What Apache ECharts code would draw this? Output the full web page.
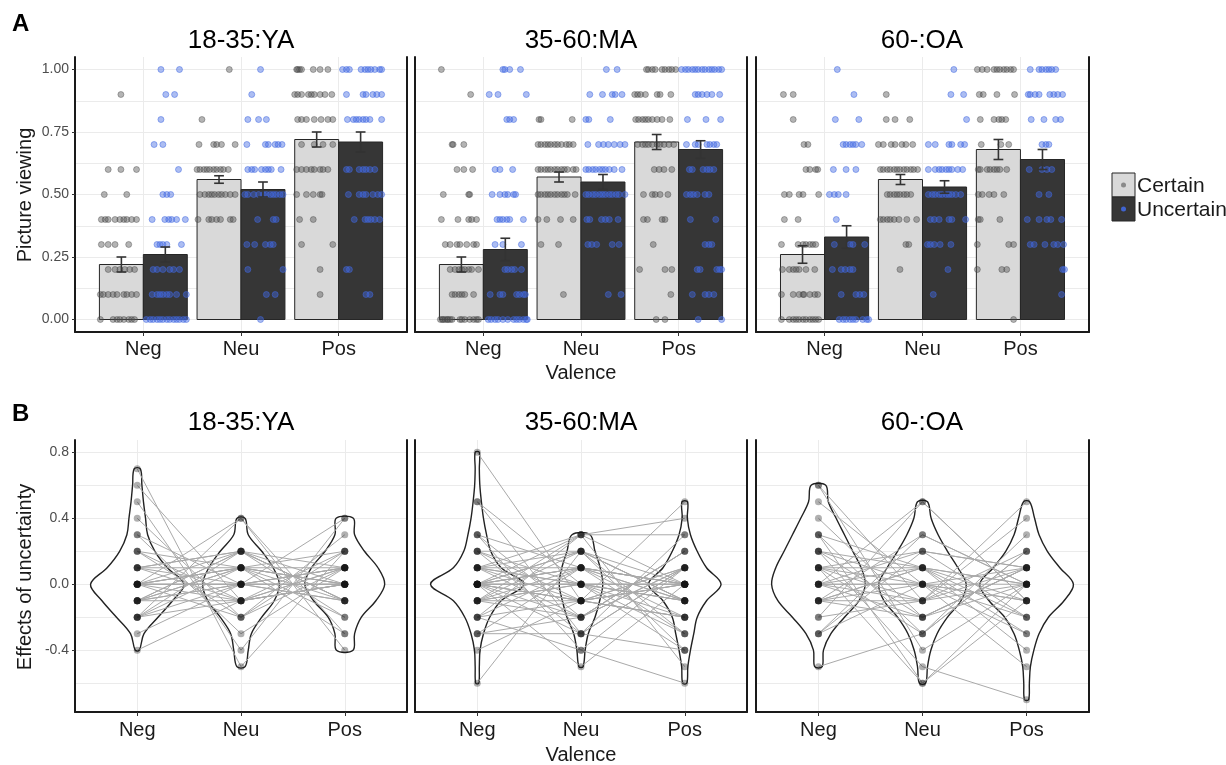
<!DOCTYPE html>
<html>
<head>
<meta charset="utf-8">
<script src="https://cdn.jsdelivr.net/npm/echarts@6/dist/echarts.min.js"></script>
<style>
  html, body { margin: 0; padding: 0; background: #fff; }
  #chart { width: 1226px; height: 765px; }
</style>
</head>
<body>
<div id="chart"></div>
<script>
// ---------- labels / ticks ----------
const valence = ["Neg", "Neu", "Pos"];
const groups = ["18-35:YA", "35-60:MA", "60-:OA"];
const topTicks = [0, 0.25, 0.5, 0.75, 1];
const topGrid = [0, 0.125, 0.25, 0.375, 0.5, 0.625, 0.75, 0.875, 1];
const bottomTicks = [-0.4, 0, 0.4, 0.8];
const bottomGrid = [-0.6, -0.4, -0.2, 0, 0.2, 0.4, 0.6, 0.8];

// ---------- A: bar means and standard errors (Neg, Neu, Pos) ----------
const barYA_c = [0.22, 0.56, 0.72], seYA_c = [0.03, 0.015, 0.03];
const barYA_u = [0.26, 0.52, 0.71], seYA_u = [0.03, 0.03, 0.04];
const barMA_c = [0.22, 0.57, 0.71], seMA_c = [0.03, 0.02, 0.03];
const barMA_u = [0.28, 0.55, 0.68], seMA_u = [0.045, 0.03, 0.035];
const barOA_c = [0.26, 0.56, 0.68], seOA_c = [0.035, 0.02, 0.04];
const barOA_u = [0.33, 0.53, 0.64], seOA_u = [0.045, 0.025, 0.04];

// ---------- A: individual points, rows = [value, jittered x offsets from category...] ----------
const ya_neg_c = [
  [0.9, -0.23], [0.6, -0.36, -0.23, -0.07], [0.5, -0.40, -0.17],
  [0.4, -0.43, -0.39, -0.36, -0.29, -0.24, -0.20, -0.17, -0.12, -0.07],
  [0.3, -0.43, -0.36, -0.29, -0.15],
  [0.2, -0.36, -0.29, -0.24, -0.19, -0.14, -0.09],
  [0.1, -0.44, -0.41, -0.36, -0.31, -0.27, -0.20, -0.17, -0.12, -0.07],
  [0.0, -0.44, -0.31, -0.27, -0.24, -0.20, -0.15, -0.12, -0.09]
];
const ya_neg_u = [
  [1.0, 0.18, 0.37], [0.9, 0.23, 0.32], [0.8, 0.18], [0.7, 0.11, 0.20], [0.6, 0.36],
  [0.5, 0.20, 0.24, 0.28], [0.4, 0.09, 0.22, 0.26, 0.29, 0.34, 0.43],
  [0.3, 0.14, 0.17, 0.20, 0.24, 0.39], [0.2, 0.10, 0.14, 0.20, 0.27, 0.31, 0.37],
  [0.1, 0.09, 0.14, 0.17, 0.20, 0.24, 0.27, 0.34, 0.44],
  [0.0, 0.03, 0.07, 0.10, 0.14, 0.17, 0.20, 0.24, 0.27, 0.31, 0.34, 0.37, 0.41, 0.44]
];
const ya_neu_c = [
  [1.0, -0.12], [0.8, -0.40], [0.7, -0.43, -0.28, -0.25, -0.20, -0.06],
  [0.6, -0.45, -0.42, -0.38, -0.35, -0.32, -0.28, -0.25, -0.21, -0.18, -0.13],
  [0.5, -0.42, -0.37, -0.33, -0.30, -0.27, -0.23, -0.20, -0.16, -0.11, -0.06],
  [0.4, -0.44, -0.33, -0.30, -0.25, -0.21, -0.11, -0.08]
];
const ya_neu_u = [
  [1.0, 0.20], [0.9, 0.11], [0.8, 0.07, 0.18, 0.26], [0.7, 0.06, 0.25, 0.28, 0.35, 0.38, 0.42],
  [0.6, 0.07, 0.11, 0.14, 0.21, 0.25, 0.28, 0.31, 0.41],
  [0.5, 0.04, 0.07, 0.13, 0.18, 0.23, 0.26, 0.30, 0.33, 0.36, 0.40, 0.43],
  [0.4, 0.17, 0.33, 0.36], [0.3, 0.06, 0.14, 0.25, 0.30, 0.33], [0.2, 0.07, 0.43],
  [0.1, 0.26, 0.35], [0.0, 0.20]
];
const ya_pos_c = [
  [1.0, -0.43, -0.42, -0.40, -0.38, -0.26, -0.19, -0.11],
  [0.9, -0.45, -0.42, -0.38, -0.31, -0.28, -0.25, -0.19, -0.14, -0.07],
  [0.8, -0.42, -0.38, -0.33, -0.25, -0.18, -0.11, -0.06], [0.7, -0.38, -0.25, -0.16, -0.06],
  [0.6, -0.43, -0.38, -0.33, -0.28, -0.25, -0.19, -0.16, -0.11],
  [0.5, -0.43, -0.33, -0.26, -0.19, -0.17], [0.4, -0.40, -0.26], [0.3, -0.38, -0.06],
  [0.2, -0.19], [0.1, -0.19]
];
const ya_pos_u = [
  [1.0, 0.04, 0.08, 0.11, 0.23, 0.27, 0.30, 0.33, 0.37, 0.42, 0.44],
  [0.9, 0.08, 0.25, 0.28, 0.35, 0.39, 0.44],
  [0.8, 0.09, 0.15, 0.18, 0.21, 0.25, 0.28, 0.32, 0.44],
  [0.6, 0.08, 0.11, 0.21, 0.25, 0.28, 0.32, 0.37],
  [0.5, 0.10, 0.21, 0.25, 0.28, 0.35, 0.40, 0.44],
  [0.4, 0.16, 0.27, 0.30, 0.33, 0.37, 0.42], [0.2, 0.08, 0.11], [0.1, 0.28, 0.32]
];

const ma_neg_c = [
  [1.0, -0.43], [0.9, -0.13], [0.7, -0.32, -0.31, -0.20], [0.6, -0.27, -0.20, -0.11],
  [0.5, -0.41, -0.15, -0.14], [0.4, -0.43, -0.26, -0.15, -0.12, -0.07],
  [0.3, -0.39, -0.34, -0.27, -0.24, -0.17, -0.10, -0.07],
  [0.2, -0.34, -0.29, -0.25, -0.22, -0.19, -0.15, -0.12, -0.05],
  [0.1, -0.32, -0.29, -0.25, -0.22, -0.19, -0.10],
  [0.0, -0.44, -0.42, -0.41, -0.39, -0.37, -0.36, -0.34, -0.32, -0.24, -0.22, -0.19, -0.14, -0.10, -0.07, -0.05]
];
const ma_neg_u = [
  [1.0, 0.20, 0.22, 0.27, 0.38], [0.9, 0.06, 0.15, 0.44], [0.8, 0.24, 0.27, 0.31],
  [0.6, 0.12, 0.17, 0.30], [0.5, 0.09, 0.17, 0.22, 0.25, 0.31, 0.33],
  [0.4, 0.14, 0.17, 0.20, 0.24, 0.27, 0.41], [0.3, 0.12, 0.20, 0.39],
  [0.2, 0.22, 0.25, 0.29, 0.32, 0.39], [0.1, 0.07, 0.17, 0.20, 0.34, 0.37, 0.41, 0.43],
  [0.0, 0.05, 0.08, 0.12, 0.15, 0.20, 0.25, 0.31, 0.34, 0.37, 0.41, 0.44, 0.45]
];
const ma_neu_c = [
  [0.8, -0.43, -0.41, -0.09],
  [0.7, -0.44, -0.41, -0.37, -0.34, -0.31, -0.27, -0.24, -0.20, -0.15, -0.12, -0.08],
  [0.6, -0.44, -0.41, -0.37, -0.34, -0.31, -0.27, -0.24, -0.20, -0.17, -0.14, -0.08, -0.05],
  [0.5, -0.44, -0.41, -0.37, -0.34, -0.31, -0.27, -0.24, -0.20, -0.17, -0.14, -0.06],
  [0.4, -0.44, -0.35, -0.21, -0.08], [0.3, -0.41, -0.23], [0.1, -0.18]
];
const ma_neu_u = [
  [1.0, 0.26, 0.37], [0.9, 0.09, 0.22, 0.32, 0.35, 0.42], [0.8, 0.05, 0.08, 0.30],
  [0.7, 0.07, 0.18, 0.23, 0.28, 0.34, 0.40, 0.45],
  [0.6, 0.05, 0.08, 0.12, 0.15, 0.19, 0.22, 0.25, 0.29, 0.34, 0.42],
  [0.5, 0.05, 0.08, 0.12, 0.15, 0.19, 0.22, 0.25, 0.29, 0.32, 0.36, 0.39, 0.45],
  [0.4, 0.06, 0.09, 0.21, 0.25, 0.29, 0.38], [0.3, 0.07, 0.11, 0.16, 0.32, 0.39],
  [0.1, 0.28, 0.41]
];
const ma_pos_c = [
  [1.0, -0.33, -0.31, -0.27, -0.24, -0.17, -0.14, -0.10, -0.07, -0.03],
  [0.9, -0.45, -0.42, -0.39, -0.34, -0.22, -0.19, -0.08],
  [0.8, -0.44, -0.41, -0.37, -0.34, -0.31, -0.27, -0.22, -0.17, -0.09],
  [0.7, -0.42, -0.37, -0.34, -0.31, -0.27, -0.22, -0.19, -0.15, -0.10, -0.05],
  [0.6, -0.25, -0.20, -0.15, -0.07], [0.5, -0.36, -0.27, -0.24, -0.19, -0.11],
  [0.4, -0.36, -0.32, -0.17, -0.14], [0.3, -0.26], [0.2, -0.40, -0.14, -0.07],
  [0.1, -0.08], [0.0, -0.23, -0.14]
];
const ma_pos_u = [
  [1.0, 0.03, 0.07, 0.10, 0.14, 0.17, 0.20, 0.24, 0.27, 0.31, 0.34, 0.37, 0.41, 0.44],
  [0.9, 0.17, 0.20, 0.24, 0.29, 0.34, 0.42], [0.8, 0.09, 0.28, 0.43],
  [0.7, 0.08, 0.17, 0.20, 0.29, 0.32, 0.36, 0.39], [0.6, 0.11, 0.14, 0.25, 0.29, 0.32, 0.36],
  [0.5, 0.08, 0.12, 0.15, 0.19, 0.27, 0.31], [0.4, 0.12, 0.38], [0.3, 0.27, 0.31, 0.34],
  [0.2, 0.19, 0.22, 0.39, 0.42, 0.44], [0.1, 0.14, 0.27, 0.31, 0.36], [0.0, 0.20, 0.44]
];

const oa_neg_c = [
  [0.9, -0.42, -0.32], [0.8, -0.32], [0.7, -0.21, -0.17], [0.6, -0.19, -0.15, -0.09, -0.07],
  [0.5, -0.41, -0.36, -0.26, -0.22, -0.06], [0.4, -0.41, -0.27],
  [0.3, -0.44, -0.27, -0.22, -0.19, -0.15, -0.12, -0.09],
  [0.2, -0.43, -0.36, -0.32, -0.29, -0.26, -0.19, -0.10],
  [0.1, -0.44, -0.32, -0.26, -0.22, -0.21, -0.15, -0.10, -0.07],
  [0.0, -0.44, -0.36, -0.32, -0.29, -0.26, -0.22, -0.19, -0.15, -0.12, -0.09, -0.06]
];
const oa_neg_u = [
  [1.0, 0.13], [0.9, 0.30], [0.8, 0.11, 0.35], [0.7, 0.19, 0.22, 0.26, 0.29, 0.32, 0.38],
  [0.6, 0.09, 0.22, 0.32], [0.5, 0.05, 0.10, 0.14, 0.22], [0.4, 0.12],
  [0.3, 0.10, 0.26, 0.29, 0.41], [0.2, 0.08, 0.17, 0.21, 0.26, 0.29],
  [0.1, 0.17, 0.32, 0.36, 0.40], [0.0, 0.15, 0.19, 0.22, 0.26, 0.29, 0.32, 0.39, 0.43, 0.45]
];
const oa_neu_c = [
  [0.9, -0.37], [0.8, -0.37, -0.28, -0.13], [0.7, -0.45, -0.40, -0.32, -0.28, -0.21, -0.17, -0.10],
  [0.6, -0.43, -0.40, -0.36, -0.33, -0.29, -0.26, -0.23, -0.19, -0.16, -0.12, -0.09, -0.05],
  [0.5, -0.36, -0.33, -0.29, -0.26, -0.23, -0.19, -0.16, -0.12],
  [0.4, -0.43, -0.40, -0.36, -0.33, -0.29, -0.24, -0.16, -0.06], [0.3, -0.17, -0.14], [0.2, -0.23]
];
const oa_neu_u = [
  [1.0, 0.32], [0.9, 0.29, 0.42], [0.8, 0.45], [0.7, 0.06, 0.13, 0.27, 0.30, 0.39, 0.43],
  [0.6, 0.06, 0.13, 0.17, 0.20, 0.24, 0.27, 0.30, 0.36, 0.41],
  [0.5, 0.06, 0.10, 0.13, 0.17, 0.20, 0.24, 0.27, 0.30, 0.34, 0.39],
  [0.4, 0.08, 0.12, 0.17, 0.27, 0.30, 0.44], [0.3, 0.05, 0.08, 0.12, 0.18, 0.29],
  [0.2, 0.26], [0.1, 0.11]
];
const oa_pos_c = [
  [1.0, -0.44, -0.39, -0.34, -0.27, -0.24, -0.21, -0.17, -0.14, -0.10, -0.07],
  [0.9, -0.42, -0.38, -0.24, -0.06], [0.8, -0.41, -0.27, -0.22, -0.19, -0.15],
  [0.7, -0.40, -0.20, -0.12], [0.6, -0.43, -0.41, -0.34, -0.31, -0.27, -0.24, -0.21, -0.14],
  [0.5, -0.43, -0.39, -0.32, -0.27, -0.17], [0.4, -0.43, -0.41, -0.21],
  [0.3, -0.44, -0.12, -0.07], [0.2, -0.44, -0.19, -0.14], [0.0, -0.07]
];
const oa_pos_u = [
  [1.0, 0.10, 0.19, 0.22, 0.26, 0.29, 0.32, 0.36],
  [0.9, 0.08, 0.10, 0.15, 0.19, 0.30, 0.34, 0.38, 0.43], [0.8, 0.11, 0.24, 0.36, 0.41],
  [0.7, 0.22, 0.26, 0.29], [0.6, 0.09, 0.22, 0.27, 0.32], [0.5, 0.19, 0.29],
  [0.4, 0.07, 0.19, 0.27, 0.31, 0.42], [0.3, 0.10, 0.14, 0.25, 0.34, 0.38, 0.44],
  [0.2, 0.43, 0.45], [0.1, 0.42]
];

// ---------- B: violin outlines, rows = [value, half width] ----------
const vYA_neg = [[0.7,0.03],[0.6,0.045],[0.5,0.06],[0.4,0.08],[0.3,0.1],[0.2,0.17],[0.1,0.29],[0,0.45],[-0.1,0.34],[-0.2,0.2],[-0.3,0.065],[-0.4,0.02]];
const vYA_neu = [[0.4,0.04],[0.3,0.07],[0.2,0.2],[0.1,0.31],[0,0.37],[-0.1,0.32],[-0.2,0.2],[-0.3,0.1],[-0.4,0.07],[-0.5,0.04]];
const vYA_pos = [[0.4,0.083],[0.3,0.095],[0.2,0.19],[0.1,0.32],[0,0.385],[-0.1,0.3],[-0.2,0.16],[-0.3,0.095],[-0.4,0.08]];
const vMA_neg = [[0.8,0.02],[0.7,0.02],[0.6,0.025],[0.5,0.04],[0.4,0.06],[0.3,0.09],[0.2,0.13],[0.1,0.23],[0,0.45],[-0.1,0.23],[-0.2,0.12],[-0.3,0.06],[-0.4,0.027],[-0.5,0.02],[-0.6,0.015]];
const vMA_neu = [[0.3,0.087],[0.2,0.135],[0.1,0.185],[0,0.21],[-0.1,0.18],[-0.2,0.135],[-0.3,0.07],[-0.4,0.04],[-0.5,0.02]];
const vMA_pos = [[0.5,0.027],[0.4,0.025],[0.3,0.055],[0.2,0.12],[0.1,0.21],[0,0.35],[-0.1,0.21],[-0.2,0.12],[-0.3,0.087],[-0.4,0.055],[-0.5,0.03],[-0.6,0.02]];
const vOA_neg = [[0.6,0.07],[0.5,0.095],[0.4,0.17],[0.3,0.25],[0.2,0.33],[0.1,0.41],[0,0.45],[-0.1,0.39],[-0.2,0.25],[-0.3,0.12],[-0.4,0.048],[-0.5,0.036]];
const vOA_neu = [[0.5,0.048],[0.4,0.083],[0.3,0.15],[0.2,0.24],[0.1,0.34],[0,0.42],[-0.1,0.37],[-0.2,0.24],[-0.3,0.14],[-0.4,0.08],[-0.5,0.048],[-0.6,0.03]];
const vOA_pos = [[0.5,0.03],[0.4,0.077],[0.3,0.12],[0.2,0.2],[0.1,0.32],[0,0.45],[-0.1,0.36],[-0.2,0.21],[-0.3,0.12],[-0.4,0.07],[-0.5,0.037],[-0.6,0.027],[-0.7,0.02]];

// ---------- B: effects of uncertainty per participant [Neg, Neu, Pos] ----------
const effYA = [
  [0.7,-0.5,0.2],[0.6,-0.1,0],[0.5,-0.4,0.4],[0.4,-0.2,0.1],[0.3,-0.3,0.1],[0.3,0,-0.1],
  [0.2,-0.1,0],[0.2,0.1,-0.2],[0.2,-0.2,0.3],[0.1,0.2,-0.1],[0.1,0,0],[0.1,-0.1,0.2],
  [0.1,0.1,-0.3],[0.1,0.2,0],[0,0.4,-0.4],[0,0.1,0.1],[0,0,0],[0,-0.1,0.1],[0,0.2,-0.1],
  [0,0.1,0],[0,0,0.1],[0,-0.2,0.2],[0,0.1,-0.1],[0,0,0],[-0.1,0.2,-0.2],[-0.1,0,0.1],
  [-0.1,0.1,0],[-0.1,-0.1,0.1],[-0.1,0,-0.1],[-0.1,0.1,0],[-0.1,0.2,0.1],[-0.2,0.4,-0.3],
  [-0.2,0,0.1],[-0.2,0.2,-0.1],[-0.2,-0.1,0],[-0.2,0.1,0.2],[-0.3,0,0.4],[-0.4,-0.1,0]
];
const effMA = [
  [0.8,-0.1,0],[0.5,-0.3,0.1],[0.5,0,-0.2],[0.3,-0.2,0.2],[0.3,0.1,-0.3],[0.3,-0.4,0.1],
  [0.2,0,-0.1],[0.2,-0.1,0],[0.2,0.2,-0.4],[0.2,-0.3,0.3],[0.1,0,-0.1],[0.1,0.1,0],
  [0.1,-0.1,-0.2],[0.1,0.2,0],[0.1,-0.2,0.1],[0.1,0.3,-0.5],[0.1,0,0],[0,0.1,-0.1],
  [0,-0.1,0.1],[0,0,0],[0,0.2,-0.3],[0,-0.2,0.2],[0,0.1,0],[0,-0.1,0],[0,0.3,0.3],
  [0,0,-0.1],[0,-0.3,0.1],[0,0.1,-0.2],[0,0,0],[0,-0.1,0.5],[0,0.2,-0.1],[0,-0.5,0],
  [-0.1,0.1,0],[-0.1,0,-0.4],[-0.1,-0.1,0.1],[-0.1,0.2,-0.1],[-0.1,0.3,0],[-0.1,-0.2,0.2],
  [-0.1,0,-0.3],[-0.2,0.1,0],[-0.2,-0.1,-0.2],[-0.2,0.3,0.4],[-0.2,-0.4,-0.6],
  [-0.3,-0.2,0.1],[-0.3,0.1,-0.1],[-0.3,-0.3,-0.4],[-0.4,-0.1,-0.2],[-0.6,0.2,-0.1]
];
const effOA = [
  [0.6,-0.1,0.2],[0.6,-0.4,0],[0.5,0,-0.3],[0.4,-0.2,0.1],[0.3,-0.6,0],[0.3,0.1,-0.2],
  [0.3,-0.3,0.2],[0.2,0,-0.1],[0.2,-0.2,0.1],[0.2,-0.5,-0.7],[0.2,0.1,0],[0.1,-0.1,0],
  [0.1,0.2,-0.2],[0.1,-0.3,0.3],[0.1,0,0.1],[0.1,-0.6,-0.1],[0.1,0.1,-0.3],[0,0.5,-0.1],
  [0,0,0],[0,-0.1,0.1],[0,0.1,-0.1],[0,-0.2,0],[0,0.2,0.1],[0,0,-0.2],[-0.1,0.1,0],
  [-0.1,-0.1,0.4],[-0.1,0,-0.1],[-0.1,0.3,0],[-0.1,-0.2,0.1],[-0.1,0.1,-0.4],
  [-0.2,0.5,-0.1],[-0.2,-0.1,0.5],[-0.3,0.3,0],[-0.3,0,-0.5],[-0.3,0.2,0.1],[-0.5,-0.3,0.2]
];

// ---------- helpers ----------
const FONT = "'Liberation Sans', Arial, sans-serif";
const LINE = "#1a1a1a";
const GRIDC = "#ebebeb";

function pts(rowsPerCat) {
  const out = [];
  rowsPerCat.forEach((rows, ci) => {
    rows.forEach((r) => {
      for (let i = 1; i < r.length; i++) out.push([ci + 1 + r[i], r[0]]);
    });
  });
  return out;
}

function barRender(side, fill) {
  return function (params, api) {
    const c = api.value(0);
    const m = api.value(1);
    const x0 = side < 0 ? c - 0.45 : c;
    const p0 = api.coord([x0, m]);
    const p1 = api.coord([x0 + 0.45, 0]);
    return {
      type: "rect",
      shape: { x: p0[0], y: p0[1], width: p1[0] - p0[0], height: p1[1] - p0[1] },
      style: { fill: fill, stroke: "#262626", lineWidth: 1 },
    };
  };
}

function errRender(side) {
  return function (params, api) {
    const c = api.value(0) + side * 0.225;
    const m = api.value(1);
    const s = api.value(2);
    const t = api.coord([c, m + s]);
    const b = api.coord([c, m - s]);
    const hw = api.coord([c + 0.05, m])[0] - api.coord([c, m])[0];
    const st = { stroke: "#333", lineWidth: 1.6 };
    return {
      type: "group",
      children: [
        { type: "line", shape: { x1: t[0], y1: t[1], x2: b[0], y2: b[1] }, style: st },
        { type: "line", shape: { x1: t[0] - hw, y1: t[1], x2: t[0] + hw, y2: t[1] }, style: st },
        { type: "line", shape: { x1: b[0] - hw, y1: b[1], x2: b[0] + hw, y2: b[1] }, style: st },
      ],
    };
  };
}

function violinRender(violins) {
  return function (params, api) {
    const c = api.value(0);
    const v = violins[params.dataIndex];
    const right = v.map((r) => api.coord([c + r[1], r[0]]));
    const left = v.slice().reverse().map((r) => api.coord([c - r[1], r[0]]));
    return {
      type: "polygon",
      shape: { points: right.concat(left), smooth: 0.35 },
      style: { fill: "#fff", stroke: "#222", lineWidth: 1.4 },
    };
  };
}

const topSets = [
  { c: barYA_c, sc: seYA_c, u: barYA_u, su: seYA_u, pc: [ya_neg_c, ya_neu_c, ya_pos_c], pu: [ya_neg_u, ya_neu_u, ya_pos_u] },
  { c: barMA_c, sc: seMA_c, u: barMA_u, su: seMA_u, pc: [ma_neg_c, ma_neu_c, ma_pos_c], pu: [ma_neg_u, ma_neu_u, ma_pos_u] },
  { c: barOA_c, sc: seOA_c, u: barOA_u, su: seOA_u, pc: [oa_neg_c, oa_neu_c, oa_pos_c], pu: [oa_neg_u, oa_neu_u, oa_pos_u] },
];
const bottomSets = [
  { v: [vYA_neg, vYA_neu, vYA_pos], e: effYA },
  { v: [vMA_neg, vMA_neu, vMA_pos], e: effMA },
  { v: [vOA_neg, vOA_neu, vOA_pos], e: effOA },
];

const lefts = [75, 415, 756];
const widths = [332, 332, 333];

const grid = [];
const xAxis = [];
const yAxis = [];
const rightAxes = [];
const series = [];

for (let g = 0; g < 6; g++) {
  const top = g < 3;
  const col = g % 3;
  grid.push({
    left: lefts[col],
    width: widths[col],
    top: top ? 57 : 440,
    height: top ? 275 : 272,
  });
  xAxis.push({
    gridIndex: g,
    type: "value",
    min: top ? 0.3 : 0.4,
    max: top ? 3.7 : 3.6,
    axisLine: { onZero: false, lineStyle: { color: LINE, width: 2 } },
    axisTick: { customValues: [1, 2, 3], length: 4, lineStyle: { color: "#333" } },
    axisLabel: {
      customValues: [1, 2, 3],
      formatter: (v) => valence[Math.round(v) - 1],
      fontSize: 20,
      fontFamily: FONT,
      color: "#1a1a1a",
      margin: top ? 7 : 8,
    },
    splitLine: { show: true, lineStyle: { color: GRIDC, width: 1 } },
  });
  const ymin = top ? -0.05 : -0.775;
  const ymax = top ? 1.05 : 0.875;
  // left axis: line, ticks and labels
  yAxis.push({
    gridIndex: g,
    type: "value",
    min: ymin,
    max: ymax,
    axisLine: { show: true, onZero: false, lineStyle: { color: LINE, width: 2 } },
    axisTick: { show: col === 0, customValues: top ? topTicks : bottomTicks, length: 3, lineStyle: { color: "#333" } },
    axisLabel: {
      show: col === 0,
      customValues: top ? topTicks : bottomTicks,
      formatter: (v) => (top ? v.toFixed(2) : v.toFixed(1)),
      fontSize: 14,
      fontFamily: FONT,
      color: "#4d4d4d",
      margin: 6,
    },
    splitLine: { show: false },
  });
  // right axis: panel border line and the horizontal grid lines
  rightAxes.push({
    gridIndex: g,
    type: "value",
    position: "right",
    min: ymin,
    max: ymax,
    axisLine: { show: true, onZero: false, lineStyle: { color: LINE, width: 2 } },
    axisTick: { show: false, customValues: top ? topGrid : bottomGrid },
    axisLabel: { show: false },
    splitLine: { show: true, lineStyle: { color: GRIDC, width: 1 } },
  });

  if (top) {
    const s = topSets[col];
    series.push({
      type: "custom", xAxisIndex: g, yAxisIndex: g, z: 2,
      renderItem: barRender(-1, "#d9d9d9"),
      encode: { x: 0, y: 1 },
      data: s.c.map((m, i) => [i + 1, m, s.sc[i]]),
    });
    series.push({
      type: "custom", xAxisIndex: g, yAxisIndex: g, z: 2,
      renderItem: barRender(1, "#363636"),
      encode: { x: 0, y: 1 },
      data: s.u.map((m, i) => [i + 1, m, s.su[i]]),
    });
    series.push({
      type: "scatter", xAxisIndex: g, yAxisIndex: g, z: 3,
      symbolSize: 6,
      itemStyle: { color: "rgba(85,85,85,0.55)", borderColor: "rgba(60,60,60,0.6)", borderWidth: 0.8 },
      data: pts(s.pc),
    });
    series.push({
      type: "scatter", xAxisIndex: g, yAxisIndex: g, z: 3,
      symbolSize: 6,
      itemStyle: { color: "rgba(65,105,225,0.55)", borderColor: "rgba(65,105,225,0.8)", borderWidth: 0.8 },
      data: pts(s.pu),
    });
    series.push({
      type: "custom", xAxisIndex: g, yAxisIndex: g, z: 4,
      renderItem: errRender(-1),
      encode: { x: 0, y: 1 },
      data: s.c.map((m, i) => [i + 1, m, s.sc[i]]),
    });
    series.push({
      type: "custom", xAxisIndex: g, yAxisIndex: g, z: 4,
      renderItem: errRender(1),
      encode: { x: 0, y: 1 },
      data: s.u.map((m, i) => [i + 1, m, s.su[i]]),
    });
  } else {
    const s = bottomSets[col];
    series.push({
      type: "custom", xAxisIndex: g, yAxisIndex: g, z: 2,
      renderItem: violinRender(s.v),
      encode: { x: 0, y: 1 },
      data: [[1, 0], [2, 0], [3, 0]],
    });
    series.push({
      type: "lines", coordinateSystem: "cartesian2d", xAxisIndex: g, yAxisIndex: g, z: 3,
      polyline: true,
      lineStyle: { color: "#a9a9a9", width: 1, opacity: 1 },
      data: s.e.map((t) => ({ coords: [[1, t[0]], [2, t[1]], [3, t[2]]] })),
    });
    const p = [];
    s.e.forEach((t) => { p.push([1, t[0]], [2, t[1]], [3, t[2]]); });
    series.push({
      type: "scatter", xAxisIndex: g, yAxisIndex: g, z: 4,
      symbolSize: 7,
      itemStyle: { color: "rgba(20,20,20,0.42)" },
      data: p,
    });
  }
}

const graphic = [
  { type: "text", x: 12, y: 24, style: { text: "A", font: "bold 24px " + FONT, fill: "#000", verticalAlign: "middle" } },
  { type: "text", x: 12, y: 414, style: { text: "B", font: "bold 24px " + FONT, fill: "#000", verticalAlign: "middle" } },
  {
    type: "text", x: 25, y: 195, rotation: Math.PI / 2,
    style: { text: "Picture viewing", font: "20px " + FONT, fill: "#1a1a1a", align: "center", verticalAlign: "middle" },
  },
  {
    type: "text", x: 25, y: 577, rotation: Math.PI / 2,
    style: { text: "Effects of uncertainty", font: "20px " + FONT, fill: "#1a1a1a", align: "center", verticalAlign: "middle" },
  },
  { type: "text", x: 581, y: 373, style: { text: "Valence", font: "20px " + FONT, fill: "#1a1a1a", align: "center", verticalAlign: "middle" } },
  { type: "text", x: 581, y: 755, style: { text: "Valence", font: "20px " + FONT, fill: "#1a1a1a", align: "center", verticalAlign: "middle" } },
  // legend
  { type: "rect", shape: { x: 1112, y: 173, width: 23, height: 24 }, style: { fill: "#d9d9d9", stroke: "#262626", lineWidth: 1 } },
  { type: "circle", shape: { cx: 1123.5, cy: 185, r: 2.5 }, style: { fill: "rgba(85,85,85,0.6)" } },
  { type: "rect", shape: { x: 1112, y: 197, width: 23, height: 24 }, style: { fill: "#363636", stroke: "#262626", lineWidth: 1 } },
  { type: "circle", shape: { cx: 1123.5, cy: 209, r: 2.5 }, style: { fill: "rgba(65,105,225,0.9)" } },
  { type: "text", x: 1137, y: 186, style: { text: "Certain", font: "21px " + FONT, fill: "#1a1a1a", verticalAlign: "middle" } },
  { type: "text", x: 1137, y: 210, style: { text: "Uncertain", font: "21px " + FONT, fill: "#1a1a1a", verticalAlign: "middle" } },
];
const titleX = [241, 581, 922];
[41, 423].forEach((ty) => {
  groups.forEach((name, i) => {
    graphic.push({
      type: "text", x: titleX[i], y: ty,
      style: { text: name, font: "26px " + FONT, fill: "#000", align: "center", verticalAlign: "middle" },
    });
  });
});

const chart = echarts.init(document.getElementById("chart"));
chart.setOption({
  animation: false,
  backgroundColor: "#fff",
  grid: grid,
  xAxis: xAxis,
  yAxis: yAxis.concat(rightAxes),
  series: series,
  graphic: graphic,
});
</script>
</body>
</html>
